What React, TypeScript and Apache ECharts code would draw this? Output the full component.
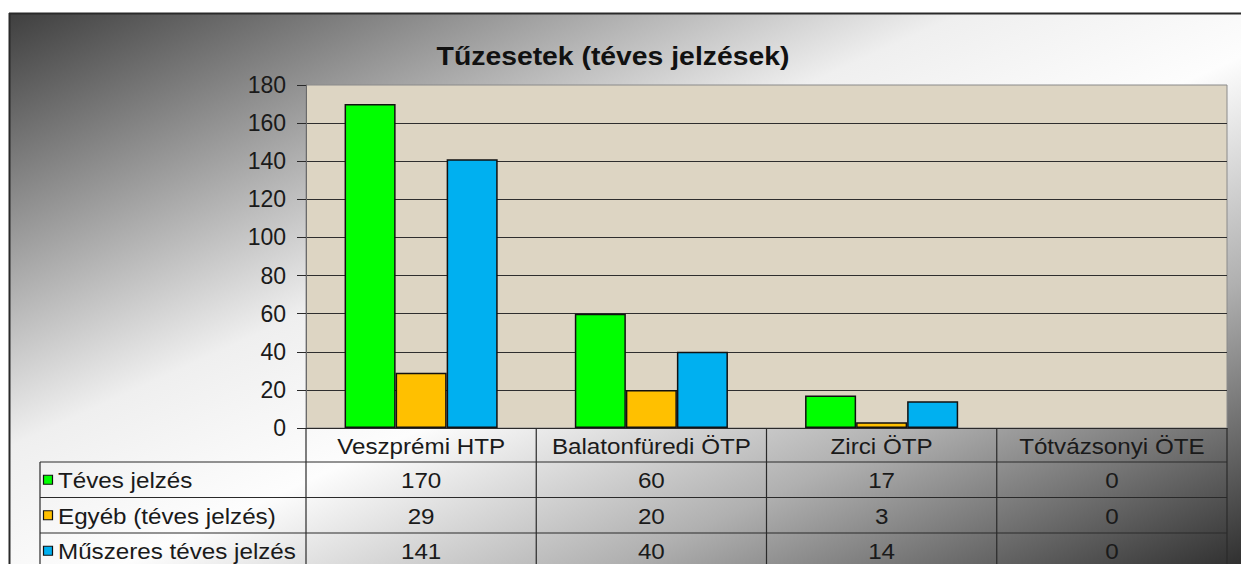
import React, { useEffect, useRef } from "react";
import * as echarts from "echarts";

const categories = ["Veszprémi HTP", "Balatonfüredi ÖTP", "Zirci ÖTP", "Tótvázsonyi ÖTE"];
const seriesNames = ["Téves jelzés", "Egyéb (téves jelzés)", "Műszeres téves jelzés"];
const tevesJelzes = [170, 60, 17, 0];
const egyeb = [29, 20, 3, 0];
const muszeres = [141, 40, 14, 0];
const seriesValues = [tevesJelzes, egyeb, muszeres];
const seriesColors = ["#00ff00", "#ffc000", "#00b0f0"];
const yMin = 0;
const yMax = 180;
const yInterval = 20;
const titleText = "Tűzesetek (téves jelzések)";

const W = 1241;
const H = 564;
const GL = 306;
const GT = 85;
const GW = 921;
const GH = 343;
const TABLE_LEFT = 40;
const HEADER_H = 34;
const ROW_H = 35.5;
const FONT = '"Liberation Sans", Arial, sans-serif';
const SX = 1.1;

export default function App() {
  const ref = useRef<HTMLDivElement>(null);

  useEffect(() => {
    if (!ref.current) return;
    const chart = echarts.init(ref.current, undefined, { renderer: "svg" });

    const colW = GW / categories.length;
    const tableTop = GT + GH;
    const rowsTop = tableTop + HEADER_H;
    const tableBottom = rowsTop + ROW_H * seriesNames.length;
    const lineStyle = { stroke: "#2a2a2a", lineWidth: 1.2 };

    const graphics: any[] = [];
    graphics.push({ type: "rect", shape: { x: 0, y: 0, width: W, height: 13 }, style: { fill: "#ffffff" }, silent: true });
    graphics.push({ type: "rect", shape: { x: 0, y: 0, width: 9, height: H }, style: { fill: "#ffffff" }, silent: true });
    graphics.push({ type: "line", shape: { x1: 9, y1: 13.5, x2: W, y2: 13.5 }, style: { stroke: "#2a2a2a", lineWidth: 2 }, silent: true });
    graphics.push({ type: "line", shape: { x1: 9.5, y1: 13, x2: 9.5, y2: H }, style: { stroke: "#2a2a2a", lineWidth: 2 }, silent: true });

    graphics.push({
      type: "text",
      x: 613,
      y: 56,
      scaleX: 1.09,
      style: {
        text: titleText,
        font: `bold 26px ${FONT}`,
        fill: "#111111",
        align: "center",
        verticalAlign: "middle",
        textAlign: "center",
        textVerticalAlign: "middle",
      },
      silent: true,
    });

    for (let i = 0; i <= seriesNames.length; i++) {
      const y = rowsTop + i * ROW_H;
      graphics.push({ type: "line", shape: { x1: TABLE_LEFT, y1: y, x2: GL + GW, y2: y }, style: lineStyle, silent: true });
    }
    graphics.push({ type: "line", shape: { x1: TABLE_LEFT, y1: rowsTop, x2: TABLE_LEFT, y2: tableBottom }, style: lineStyle, silent: true });
    for (let c = 0; c <= categories.length; c++) {
      const x = GL + c * colW;
      graphics.push({ type: "line", shape: { x1: x, y1: tableTop, x2: x, y2: tableBottom }, style: lineStyle, silent: true });
    }

    const textEl = (t: string, x: number, y: number, align: string) => ({
      type: "text",
      x,
      y,
      scaleX: SX,
      style: {
        text: t,
        font: `22px ${FONT}`,
        fill: "#1a1a1a",
        align,
        verticalAlign: "middle",
        textAlign: align,
        textVerticalAlign: "middle",
      },
      silent: true,
    });

    categories.forEach((cat, c) => {
      graphics.push(textEl(cat, GL + (c + 0.5) * colW, tableTop + HEADER_H / 2 + 1, "center"));
    });
    seriesNames.forEach((name, r) => {
      const cy = rowsTop + (r + 0.5) * ROW_H + 1;
      graphics.push({
        type: "rect",
        shape: { x: 43.5, y: cy - 5.5, width: 9, height: 9 },
        style: { fill: seriesColors[r], stroke: "#111111", lineWidth: 1.2 },
        silent: true,
      });
      graphics.push(textEl(name, 58, cy, "left"));
      seriesValues[r].forEach((v, c) => {
        graphics.push(textEl(String(v), GL + (c + 0.5) * colW, cy, "center"));
      });
    });

    chart.setOption({
      animation: false,
      backgroundColor: {
        type: "linear",
        x: 0,
        y: 0,
        x2: 1,
        y2: 1,
        colorStops: [
          { offset: 0, color: "#383838" },
          { offset: 0.4, color: "#efefef" },
          { offset: 0.55, color: "#fdfdfd" },
          { offset: 0.75, color: "#b0b0b0" },
          { offset: 1, color: "#303030" },
        ],
      },
      grid: {
        left: GL,
        top: GT,
        width: GW,
        height: GH,
        show: true,
        backgroundColor: "#ddd5c3",
        borderColor: "#8a8a8a",
        borderWidth: 1,
      },
      xAxis: {
        type: "category",
        data: categories,
        axisLine: { show: true, lineStyle: { color: "#2a2a2a", width: 1.2 } },
        axisTick: { show: false },
        axisLabel: { show: false },
        splitLine: { show: false },
      },
      yAxis: {
        type: "value",
        min: yMin,
        max: yMax,
        interval: yInterval,
        axisLine: { show: true, lineStyle: { color: "#6a6a6a", width: 1 } },
        axisTick: { show: true, inside: false, length: 9, lineStyle: { color: "#2a2a2a" } },
        axisLabel: { fontSize: 23, fontFamily: "Liberation Sans", color: "#1a1a1a", margin: 20 },
        splitLine: { show: true, showMinLine: false, showMaxLine: false, lineStyle: { color: "#2e2e2e", width: 1.2 } },
      },
      series: seriesNames.map((name, i) => ({
        name,
        type: "bar",
        data: seriesValues[i].map((v) => (v === 0 ? { value: v, itemStyle: { borderWidth: 0 } } : v)),
        barGap: "0%",
        barCategoryGap: "33.5%",
        itemStyle: { color: seriesColors[i], borderColor: "#111111", borderWidth: 1.5 },
      })),
      graphic: { elements: graphics },
    });

    return () => chart.dispose();
  }, []);

  return <div ref={ref} style={{ position: "absolute", left: 0, top: 0, width: W, height: H }} />;
}
